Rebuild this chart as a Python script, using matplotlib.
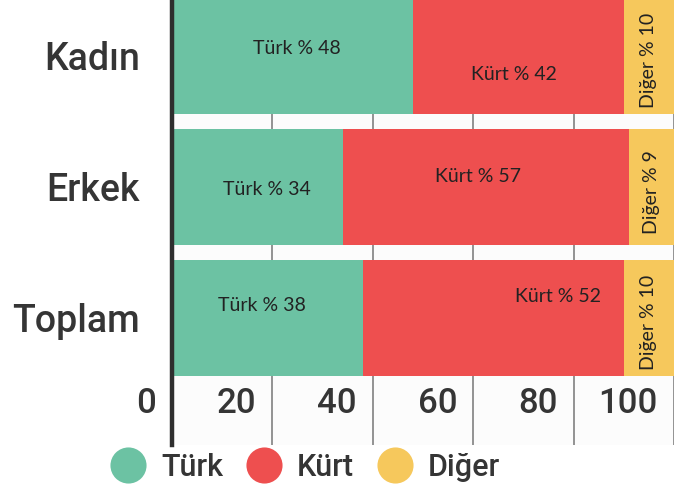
import matplotlib
matplotlib.use("Agg")
import matplotlib.pyplot as plt
import matplotlib.transforms as mtransforms
from matplotlib.lines import Line2D

# veri
gruplar = ["Toplam", "Erkek", "Kadın"]
turk = [38, 34, 48]
kurt = [52, 57, 42]
diger = [10, 9, 10]
seriler = ["Türk", "Kürt", "Diğer"]
renkler = ["#6cc2a3", "#ee4f4f", "#f6c85c"]
x_tikler = [0, 20, 40, 60, 80, 100]

# etiket kaydirmalari (x veri birimi, y bar birimi)
turk_dx = [-1.1, 1.9, 0.8]
turk_dy = [0.05, -0.065, 0.015]
kurt_dx = [12.9, -1.5, -0.9]
kurt_dy = [0.118, 0.034, -0.19]

yazi_koyu = "#353535"
plt.rcParams["font.family"] = ["Roboto", "DejaVu Sans"]

fig = plt.figure(figsize=(6.74, 4.86), dpi=100)
ax = fig.add_axes([172 / 674, 41 / 486, 1 - 172 / 674, 445 / 486])
ax.set_facecolor("#fcfcfc")

y = list(range(len(gruplar)))
h = 0.885
sol_kurt = turk
sol_diger = [a + b for a, b in zip(turk, kurt)]
ax.barh(y, turk, height=h, color=renkler[0], zorder=2)
ax.barh(y, kurt, left=sol_kurt, height=h, color=renkler[1], zorder=2)
ax.barh(y, diger, left=sol_diger, height=h, color=renkler[2], zorder=2)

ax.set_xlim(0, 100)
ax.set_ylim(-0.973, 2.424)

# bar icindeki yazilar
etiket_font = dict(family=["Lato", "DejaVu Sans"], fontsize=14, color="#222222")
for i in y:
    ax.text(turk[i] / 2 + turk_dx[i], y[i] + turk_dy[i], f"Türk % {turk[i]}",
            ha="center", va="baseline", zorder=3, **etiket_font)
    ax.text(sol_kurt[i] + kurt[i] / 2 + kurt_dx[i], y[i] + kurt_dy[i], f"Kürt % {kurt[i]}",
            ha="center", va="baseline", zorder=3, **etiket_font)
    ax.text(sol_diger[i] + diger[i] / 2, y[i] - 0.04, f"Diğer % {diger[i]}",
            ha="center", va="center", rotation=90, zorder=3, **etiket_font)

# grup etiketleri
ax.set_yticks(y)
ax.set_yticklabels(gruplar, fontsize=27, fontweight="medium", color=yazi_koyu)
ax.tick_params(axis="y", length=0, pad=23)

# dikey izgara
ax.set_xticks(x_tikler)
ax.set_xticklabels([])
ax.tick_params(axis="x", length=0)
ax.grid(axis="x", color="#8a8a8a", linewidth=1.3)
ax.set_axisbelow(True)

for s in ["top", "right", "bottom"]:
    ax.spines[s].set_visible(False)
ax.spines["left"].set_linewidth(3.2)
ax.spines["left"].set_color("#2e2e2e")
ax.spines["left"].set_zorder(4)

# x tik yazilari eksenin icinde
kaydir = mtransforms.ScaledTranslation(-16 / 100, 0, fig.dpi_scale_trans)
tr = mtransforms.blended_transform_factory(ax.transData, ax.transAxes) + kaydir
for v in x_tikler:
    ax.text(v, 0.072, str(v), transform=tr, ha="right", va="baseline",
            fontsize=25, fontweight="medium", color=yazi_koyu, clip_on=False)

# lejant
tutamaclar = [Line2D([], [], marker="o", linestyle="", markersize=26,
                     markerfacecolor=c, markeredgewidth=0) for c in renkler]
fig.legend(tutamaclar, seriler, loc="center left", bbox_to_anchor=(110 / 674, 19 / 486),
           ncol=3, frameon=False, borderpad=0, borderaxespad=0,
           handlelength=1.15, handletextpad=0.52, columnspacing=0.75,
           prop=dict(family=["Roboto", "DejaVu Sans"], size=22, weight="medium"),
           labelcolor=yazi_koyu)

fig.savefig("out.png", dpi=100)
